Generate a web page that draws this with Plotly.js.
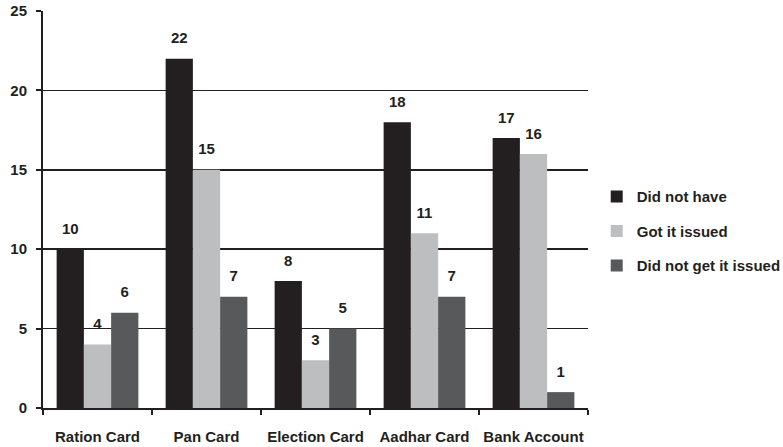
<!DOCTYPE html>
<html>
<head>
<meta charset="utf-8">
<script src="https://cdn.plot.ly/plotly-3.0.1.min.js"></script>
<style>
  html, body { margin: 0; padding: 0; background: #ffffff; }
  #chart { width: 783px; height: 447px; }
</style>
</head>
<body>
<div id="chart"></div>
<script>
// Documents held by respondents
const categories = ['Ration Card', 'Pan Card', 'Election Card', 'Aadhar Card', 'Bank Account'];
const didNotHave = [10, 22, 8, 18, 17];
const gotItIssued = [4, 15, 3, 11, 16];
const didNotGetIssued = [6, 7, 5, 7, 1];
const seriesNames = ['Did not have', 'Got it issued', 'Did not get it issued'];
const seriesColors = ['#231f20', '#bcbec0', '#58595b'];
const yTicks = [0, 5, 10, 15, 20, 25];

const FONT = 'Liberation Sans, Arial, sans-serif';
const INK = '#231f20';
const GAP = 0.25;

function barTrace(values, idx) {
  return {
    type: 'bar',
    name: seriesNames[idx],
    legendgroup: 'g' + idx,
    offsetgroup: 'g' + idx,
    x: categories,
    y: values,
    marker: { color: seriesColors[idx], line: { width: 0 } },
    hoverinfo: 'skip'
  };
}

// value labels, grouped the same way as the bars and floated above them
function labelTrace(values, idx) {
  return {
    type: 'scatter',
    mode: 'markers+text',
    showlegend: false,
    legendgroup: 'g' + idx,
    offsetgroup: 'g' + idx,
    x: categories,
    y: values,
    text: values.map(String),
    textposition: 'top center',
    marker: { size: 17, color: 'rgba(0,0,0,0)' },
    textfont: { family: FONT, size: 15, color: INK, weight: 'bold' },
    cliponaxis: false,
    hoverinfo: 'skip'
  };
}

const data = [
  barTrace(didNotHave, 0),
  barTrace(gotItIssued, 1),
  barTrace(didNotGetIssued, 2),
  labelTrace(didNotHave, 0),
  labelTrace(gotItIssued, 1),
  labelTrace(didNotGetIssued, 2)
];

const layout = {
  width: 783,
  height: 447,
  margin: { l: 43, r: 195, t: 11, b: 39, autoexpand: false },
  paper_bgcolor: '#ffffff',
  plot_bgcolor: '#ffffff',
  barmode: 'group',
  bargap: GAP,
  bargroupgap: 0,
  scattermode: 'group',
  scattergap: GAP,
  font: { family: FONT, size: 15, color: INK, weight: 'bold' },
  showlegend: true,
  legend: {
    x: 1.016,
    xanchor: 'left',
    y: 0.445,
    yanchor: 'middle',
    tracegroupgap: 12,
    font: { family: FONT, size: 15, color: INK, weight: 'bold' },
    bgcolor: 'rgba(0,0,0,0)'
  },
  xaxis: {
    type: 'category',
    showline: true,
    linecolor: INK,
    linewidth: 2,
    ticks: 'outside',
    tickson: 'boundaries',
    ticklen: 5,
    tickwidth: 2,
    tickcolor: INK,
    tickangle: 0,
    ticklabelstandoff: 14,
    showgrid: false,
    zeroline: false,
    tickfont: { family: FONT, size: 15, color: INK, weight: 'bold' }
  },
  yaxis: {
    range: [0, 25],
    tickvals: yTicks,
    ticktext: yTicks.map(String),
    showline: true,
    linecolor: INK,
    linewidth: 2,
    ticks: 'outside',
    ticklen: 5,
    tickwidth: 2,
    tickcolor: INK,
    ticklabelstandoff: 6,
    showgrid: true,
    gridcolor: INK,
    gridwidth: 1.6,
    zeroline: false,
    tickfont: { family: FONT, size: 15, color: INK, weight: 'bold' }
  }
};

Plotly.newPlot('chart', data, layout, { displayModeBar: false, staticPlot: true });
</script>
</body>
</html>
